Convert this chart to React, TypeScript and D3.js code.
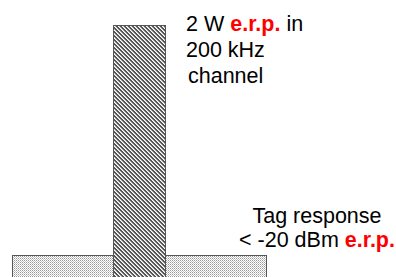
import React from "react";
import * as d3 from "d3";

// frequency offset (kHz) and relative level for each block
const blocks = ["Tag response", "Reader carrier"];
const lowKHz = [-490, -100];
const highKHz = [490, 100];
const levels = [0.087, 1];
const fills = ["url(#dots)", "url(#hatch)"];

const readerLines = [
  [{ t: "2 W ", red: false }, { t: "e.r.p.", red: true }, { t: " in", red: false }],
  [{ t: "200 kHz", red: false }],
  [{ t: "channel", red: false }],
];
const tagLines = [
  [{ t: "Tag response", red: false }],
  [{ t: "< -20 dBm ", red: false }, { t: "e.r.p.", red: true }],
];

const W = 396;
const H = 277;

const App = () => {
  const x = d3.scaleLinear().domain([-100, 100]).range([113, 165]);
  const y = d3.scaleLinear().domain([0, 1]).range([277, 25]);

  const font = "'Liberation Sans', Arial, sans-serif";

  return (
    <svg width={W} height={H} style={{ position: "absolute", left: 0, top: 0 }}>
      <defs>
        <pattern id="hatch" width="4" height="4" patternUnits="userSpaceOnUse">
          <rect width="4" height="4" fill="#555" />
          <rect x="0" y="0" width="1" height="1" fill="#fff" />
          <rect x="1" y="1" width="1" height="1" fill="#fff" />
          <rect x="2" y="2" width="1" height="1" fill="#fff" />
          <rect x="3" y="3" width="1" height="1" fill="#fff" />
          <rect x="1" y="0" width="1" height="1" fill="#c4c4c4" />
          <rect x="2" y="1" width="1" height="1" fill="#c4c4c4" />
          <rect x="3" y="2" width="1" height="1" fill="#c4c4c4" />
          <rect x="0" y="3" width="1" height="1" fill="#c4c4c4" />
        </pattern>
        <pattern id="dots" width="2" height="2" patternUnits="userSpaceOnUse">
          <rect width="2" height="2" fill="#fff" />
          <rect x="0" y="0" width="1" height="1" fill="#9a9a9a" />
          <rect x="1" y="1" width="1" height="1" fill="#c8c8c8" />
        </pattern>
      </defs>
      {blocks.map((b, i) => (
        <rect
          key={b}
          x={x(lowKHz[i]) + 0.5}
          y={y(levels[i]) + 0.5}
          width={x(highKHz[i]) - x(lowKHz[i])}
          height={y(0) - y(levels[i]) + 2}
          fill={fills[i]}
          stroke="#555"
          strokeWidth={1}
          shapeRendering="crispEdges"
        />
      ))}
      <text fontFamily={font} fontSize={21.5} fill="#000">
        {readerLines.map((line, i) => (
          <tspan key={i} x={i === 2 ? 188 : 186} y={31 + i * 26}>
            {line.map((s, j) => (
              <tspan key={j} fill={s.red ? "#f00" : "#000"} fontWeight={s.red ? "bold" : "normal"}>
                {s.t}
              </tspan>
            ))}
          </tspan>
        ))}
      </text>
      <text fontFamily={font} fontSize={21.5} fill="#000" textAnchor="middle">
        {tagLines.map((line, i) => (
          <tspan key={i} x={317} y={223 + i * 24}>
            {line.map((s, j) => (
              <tspan key={j} fill={s.red ? "#f00" : "#000"} fontWeight={s.red ? "bold" : "normal"}>
                {s.t}
              </tspan>
            ))}
          </tspan>
        ))}
      </text>
    </svg>
  );
};

export default App;
